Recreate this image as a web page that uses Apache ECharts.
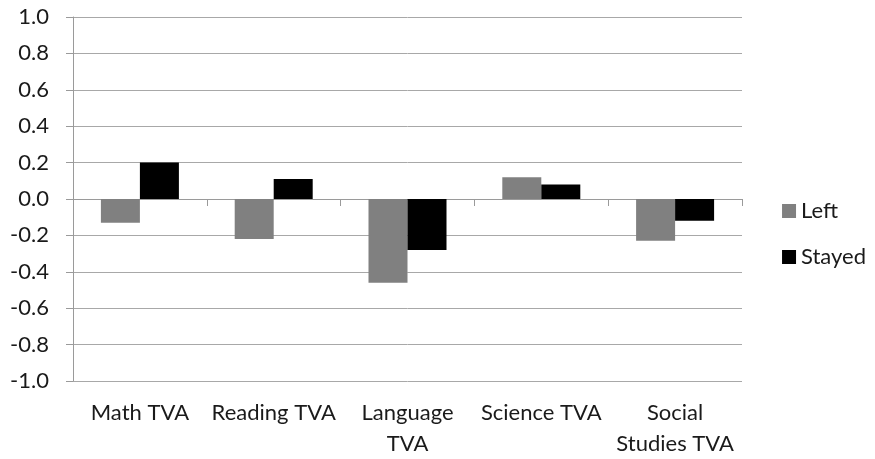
<!DOCTYPE html>
<html>
<head>
<meta charset="utf-8">
<script src="https://cdn.jsdelivr.net/npm/echarts@6/dist/echarts.min.js"></script>
<style>html,body{margin:0;padding:0;background:#fff;}#c{width:875px;height:459px;}</style>
</head>
<body>
<div id="c"></div>
<script>
const categories = ["Math TVA", "Reading TVA", "Language\nTVA", "Science TVA", "Social\nStudies TVA"];
const leftValues = [-0.13, -0.22, -0.46, 0.12, -0.23];
const stayedValues = [0.20, 0.11, -0.28, 0.08, -0.12];
const seriesNames = ["Left", "Stayed"];
const yMin = -1.0, yMax = 1.0, yStep = 0.2;

const FONT = 'Lato';
const FS = 22;
const TXT = '#1a1a1a';
const chart = echarts.init(document.getElementById('c'), null, {renderer: 'canvas'});
chart.setOption({
  animation: false,
  textStyle: {fontFamily: FONT},
  grid: {left: 73, right: 133, top: 17, bottom: 76, containLabel: false},
  legend: {
    orient: 'vertical', right: 4, top: 195,
    itemWidth: 14, itemHeight: 14, itemGap: 24,
    icon: 'rect',
    textStyle: {fontFamily: FONT, fontSize: FS, color: TXT},
    data: seriesNames
  },
  xAxis: [
    {
      type: 'category', data: categories, position: 'bottom',
      axisLine: {onZero: true, lineStyle: {color: '#9a9a9a', width: 1}},
      axisTick: {show: true, length: 7, lineStyle: {color: '#9a9a9a'}},
      axisLabel: {show: false},
      splitLine: {show: false}
    },
    {
      type: 'category', data: categories, position: 'bottom',
      axisLine: {show: false, onZero: false},
      axisTick: {show: false},
      axisLabel: {show: true, fontFamily: FONT, fontSize: FS, color: TXT, margin: 16, lineHeight: 31, interval: 0},
      splitLine: {show: false}
    }
  ],
  yAxis: {
    type: 'value', min: yMin, max: yMax, interval: yStep,
    axisLine: {show: true, lineStyle: {color: '#9a9a9a'}},
    axisTick: {show: true, length: 7, lineStyle: {color: '#9a9a9a'}},
    axisLabel: {fontFamily: FONT, fontSize: FS, color: TXT, margin: 24, formatter: v => v.toFixed(1)},
    splitLine: {show: true, lineStyle: {color: '#a8a8a8', width: 1}}
  },
  series: [
    {name: seriesNames[0], type: 'bar', xAxisIndex: 0, data: leftValues, barWidth: 39, barGap: '0%', itemStyle: {color: '#808080'}},
    {name: seriesNames[1], type: 'bar', xAxisIndex: 0, data: stayedValues, barWidth: 39, barGap: '0%', itemStyle: {color: '#000000'}}
  ]
});
</script>
</body>
</html>
